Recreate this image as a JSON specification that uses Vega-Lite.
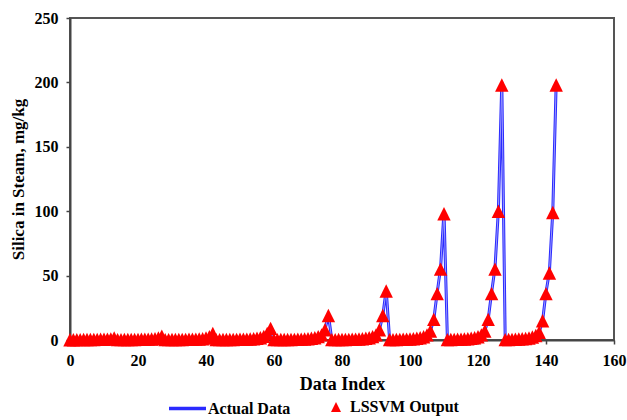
{
  "$schema": "https://vega.github.io/schema/vega-lite/v6.json",
  "width": 544,
  "height": 322,
  "autosize": {"type": "none"},
  "padding": {"left": 70, "top": 18, "right": 13, "bottom": 80},
  "config": {
    "font": "Liberation Serif",
    "view": {"stroke": "#555555", "strokeWidth": 2},
    "axis": {
      "domainColor": "#444444", "domainWidth": 2,
      "tickColor": "#444444", "tickWidth": 1.5, "tickSize": 4,
      "labelFont": "Liberation Serif", "labelFontWeight": "bold", "labelFontSize": 16, "labelColor": "#000000", "labelPadding": 8,
      "labelFlush": false,
      "titleFont": "Liberation Serif", "titleFontWeight": "bold", "titleColor": "#000000",
      "grid": false
    },
    "legend": {
      "labelFont": "Liberation Serif", "labelFontWeight": "bold", "labelFontSize": 16, "labelColor": "#000000",
      "padding": 0
    }
  },
  "data": {
    "values": [
      {"i":0,"actual":0.2,"lssvm":0.2},{"i":1,"actual":0.2,"lssvm":0.25},{"i":2,"actual":0.3,"lssvm":0.3},{"i":3,"actual":0.3,"lssvm":0.3},{"i":4,"actual":0.3,"lssvm":0.35},{"i":5,"actual":0.4,"lssvm":0.4},{"i":6,"actual":0.4,"lssvm":0.4},{"i":7,"actual":0.4,"lssvm":0.45},{"i":8,"actual":0.5,"lssvm":0.5},{"i":9,"actual":0.5,"lssvm":0.55},{"i":10,"actual":0.6,"lssvm":0.6},{"i":11,"actual":0.7,"lssvm":0.7},{"i":12,"actual":0.9,"lssvm":0.9},{"i":13,"actual":1.4,"lssvm":1.5},
      {"i":14,"actual":0.3,"lssvm":0.3},{"i":15,"actual":0.3,"lssvm":0.3},{"i":16,"actual":0.3,"lssvm":0.35},{"i":17,"actual":0.4,"lssvm":0.4},{"i":18,"actual":0.4,"lssvm":0.4},{"i":19,"actual":0.4,"lssvm":0.45},{"i":20,"actual":0.5,"lssvm":0.5},{"i":21,"actual":0.5,"lssvm":0.55},{"i":22,"actual":0.6,"lssvm":0.6},{"i":23,"actual":0.7,"lssvm":0.7},{"i":24,"actual":0.8,"lssvm":0.8},{"i":25,"actual":1.0,"lssvm":1.0},{"i":26,"actual":1.5,"lssvm":1.5},{"i":27,"actual":3.0,"lssvm":3.0},
      {"i":28,"actual":0.3,"lssvm":0.3},{"i":29,"actual":0.3,"lssvm":0.3},{"i":30,"actual":0.3,"lssvm":0.35},{"i":31,"actual":0.4,"lssvm":0.4},{"i":32,"actual":0.4,"lssvm":0.4},{"i":33,"actual":0.4,"lssvm":0.45},{"i":34,"actual":0.5,"lssvm":0.5},{"i":35,"actual":0.5,"lssvm":0.55},{"i":36,"actual":0.6,"lssvm":0.6},{"i":37,"actual":0.7,"lssvm":0.7},{"i":38,"actual":0.8,"lssvm":0.8},{"i":39,"actual":1.0,"lssvm":1.0},{"i":40,"actual":1.5,"lssvm":1.5},{"i":41,"actual":2.5,"lssvm":2.5},{"i":42,"actual":5.0,"lssvm":5.0},
      {"i":43,"actual":0.3,"lssvm":0.3},{"i":44,"actual":0.3,"lssvm":0.3},{"i":45,"actual":0.3,"lssvm":0.35},{"i":46,"actual":0.4,"lssvm":0.4},{"i":47,"actual":0.4,"lssvm":0.4},{"i":48,"actual":0.4,"lssvm":0.45},{"i":49,"actual":0.5,"lssvm":0.5},{"i":50,"actual":0.5,"lssvm":0.55},{"i":51,"actual":0.6,"lssvm":0.6},{"i":52,"actual":0.7,"lssvm":0.7},{"i":53,"actual":0.8,"lssvm":0.8},{"i":54,"actual":1.0,"lssvm":1.0},{"i":55,"actual":1.3,"lssvm":1.3},{"i":56,"actual":1.8,"lssvm":1.8},{"i":57,"actual":2.8,"lssvm":2.8},{"i":58,"actual":5.0,"lssvm":5.0},{"i":59,"actual":9.0,"lssvm":9.0},
      {"i":60,"actual":0.3,"lssvm":0.3},{"i":61,"actual":0.3,"lssvm":0.3},{"i":62,"actual":0.3,"lssvm":0.35},{"i":63,"actual":0.4,"lssvm":0.4},{"i":64,"actual":0.4,"lssvm":0.4},{"i":65,"actual":0.4,"lssvm":0.45},{"i":66,"actual":0.5,"lssvm":0.5},{"i":67,"actual":0.6,"lssvm":0.6},{"i":68,"actual":0.7,"lssvm":0.7},{"i":69,"actual":0.8,"lssvm":0.8},{"i":70,"actual":1.0,"lssvm":1.0},{"i":71,"actual":1.3,"lssvm":1.3},{"i":72,"actual":1.8,"lssvm":1.8},{"i":73,"actual":2.6,"lssvm":2.6},{"i":74,"actual":4.0,"lssvm":4.0},{"i":75,"actual":8.0,"lssvm":8.0},{"i":76,"actual":19.5,"lssvm":19.0},
      {"i":77,"actual":0.3,"lssvm":0.3},{"i":78,"actual":0.3,"lssvm":0.3},{"i":79,"actual":0.3,"lssvm":0.35},{"i":80,"actual":0.4,"lssvm":0.4},{"i":81,"actual":0.4,"lssvm":0.45},{"i":82,"actual":0.5,"lssvm":0.5},{"i":83,"actual":0.6,"lssvm":0.6},{"i":84,"actual":0.7,"lssvm":0.7},{"i":85,"actual":0.8,"lssvm":0.8},{"i":86,"actual":1.0,"lssvm":1.0},{"i":87,"actual":1.3,"lssvm":1.3},{"i":88,"actual":1.8,"lssvm":1.8},{"i":89,"actual":2.6,"lssvm":2.6},{"i":90,"actual":4.0,"lssvm":4.0},{"i":91,"actual":8.0,"lssvm":8.0},{"i":92,"actual":19.0,"lssvm":19.0},{"i":93,"actual":39.0,"lssvm":38.0},
      {"i":94,"actual":0.3,"lssvm":0.3},{"i":95,"actual":0.3,"lssvm":0.3},{"i":96,"actual":0.4,"lssvm":0.4},{"i":97,"actual":0.5,"lssvm":0.5},{"i":98,"actual":0.6,"lssvm":0.6},{"i":99,"actual":0.7,"lssvm":0.7},{"i":100,"actual":0.8,"lssvm":0.8},{"i":101,"actual":1.0,"lssvm":1.0},{"i":102,"actual":1.3,"lssvm":1.3},{"i":103,"actual":1.8,"lssvm":1.8},{"i":104,"actual":2.5,"lssvm":2.5},{"i":105,"actual":4.0,"lssvm":4.0},{"i":106,"actual":7.0,"lssvm":7.0},{"i":107,"actual":16.0,"lssvm":16.0},{"i":108,"actual":37.0,"lssvm":36.0},{"i":109,"actual":56.0,"lssvm":55.0},{"i":110,"actual":100.0,"lssvm":98.0},
      {"i":111,"actual":0.3,"lssvm":0.3},{"i":112,"actual":0.4,"lssvm":0.4},{"i":113,"actual":0.5,"lssvm":0.5},{"i":114,"actual":0.6,"lssvm":0.6},{"i":115,"actual":0.7,"lssvm":0.7},{"i":116,"actual":0.8,"lssvm":0.8},{"i":117,"actual":1.0,"lssvm":1.0},{"i":118,"actual":1.3,"lssvm":1.3},{"i":119,"actual":1.8,"lssvm":1.8},{"i":120,"actual":2.5,"lssvm":2.5},{"i":121,"actual":4.0,"lssvm":4.0},{"i":122,"actual":7.0,"lssvm":7.0},{"i":123,"actual":16.0,"lssvm":16.0},{"i":124,"actual":37.0,"lssvm":36.0},{"i":125,"actual":56.0,"lssvm":55.0},{"i":126,"actual":101.0,"lssvm":100.0},{"i":127,"actual":200.0,"lssvm":198.0},
      {"i":128,"actual":0.3,"lssvm":0.3},{"i":129,"actual":0.4,"lssvm":0.4},{"i":130,"actual":0.5,"lssvm":0.5},{"i":131,"actual":0.6,"lssvm":0.6},{"i":132,"actual":0.8,"lssvm":0.8},{"i":133,"actual":1.0,"lssvm":1.0},{"i":134,"actual":1.2,"lssvm":1.2},{"i":135,"actual":1.6,"lssvm":1.6},{"i":136,"actual":2.3,"lssvm":2.3},{"i":137,"actual":3.5,"lssvm":3.5},{"i":138,"actual":6.0,"lssvm":6.0},{"i":139,"actual":15.0,"lssvm":15.0},{"i":140,"actual":37.0,"lssvm":36.0},{"i":141,"actual":53.0,"lssvm":52.0},{"i":142,"actual":100.0,"lssvm":99.0},{"i":143,"actual":200.0,"lssvm":198.0}
    ]
  },
  "layer": [
    {
      "mark": {"type": "line", "strokeWidth": 3, "clip": false},
      "encoding": {
        "x": {"field": "i", "type": "quantitative", "scale": {"domain": [0, 160], "nice": false}, "axis": {"values": [0,20,40,60,80,100,120,140,160], "title": "Data Index", "titleFontSize": 18, "titlePadding": 7}},
        "y": {"field": "actual", "type": "quantitative", "scale": {"domain": [0, 250], "nice": false}, "axis": {"values": [0,50,100,150,200,250], "title": "Silica in Steam, mg/kg", "titleFontSize": 17, "titlePadding": 7}},
        "stroke": {"datum": "Actual Data", "scale": {"domain": ["Actual Data"], "range": ["#2a2aff"]}, "legend": {"title": null, "orient": "none", "legendX": 97, "legendY": 370, "symbolType": "stroke", "symbolSize": 1369, "symbolStrokeWidth": 3.5, "labelOffset": 0}}
      }
    },
    {
      "mark": {"type": "line", "strokeWidth": 1, "color": "#9a9aff", "clip": false},
      "encoding": {
        "x": {"field": "i", "type": "quantitative"},
        "y": {"field": "actual", "type": "quantitative"}
      }
    },
    {
      "mark": {"type": "point", "shape": "M0,-1L1,1L-1,1Z", "filled": true, "size": 180, "opacity": 1, "strokeWidth": 0, "clip": false},
      "encoding": {
        "x": {"field": "i", "type": "quantitative"},
        "y": {"field": "lssvm", "type": "quantitative"},
        "fill": {"datum": "LSSVM Output", "scale": {"domain": ["LSSVM Output"], "range": ["#ff0000"]}, "legend": {"title": null, "orient": "none", "legendX": 258, "legendY": 381, "symbolType": "M0,-1L1,1L-1,1Z", "symbolSize": 100, "symbolStrokeWidth": 0, "labelOffset": 6}}
      }
    }
  ]
}
